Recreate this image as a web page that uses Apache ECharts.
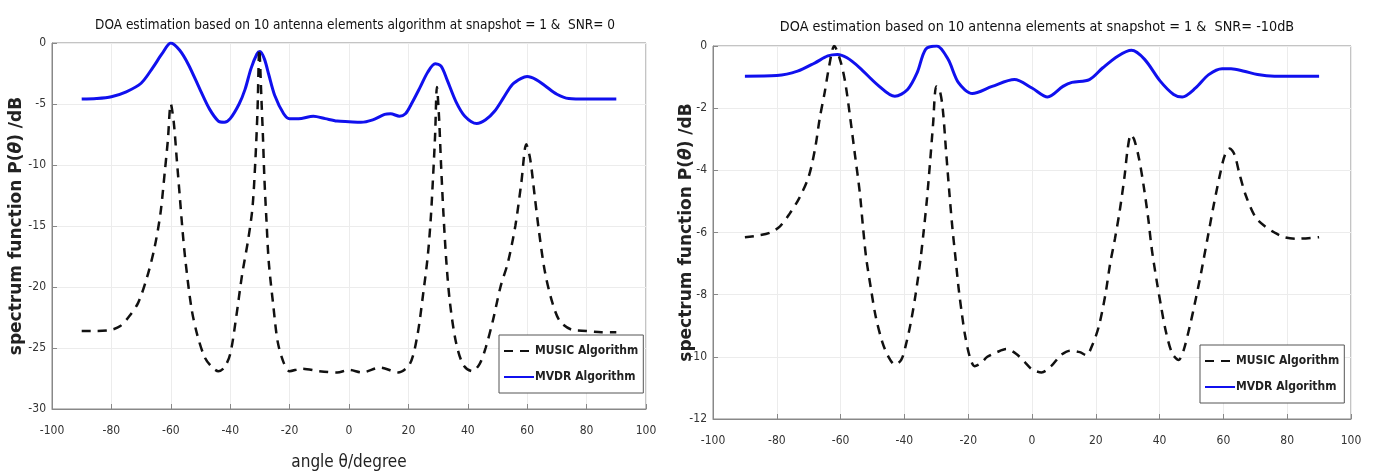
<!DOCTYPE html>
<html>
<head>
<meta charset="utf-8">
<script src="https://cdn.jsdelivr.net/npm/echarts@6/dist/echarts.min.js"></script>
<style>
  html, body { margin: 0; padding: 0; background: #fff; }
  #chart { width: 1374px; height: 474px; }
</style>
</head>
<body>
<div id="chart"></div>
<script>
// left panel: SNR = 0
const musicAngleL = [-90, -85, -80, -77, -74, -71, -68, -65.5, -63.5, -62, -61, -60, -59, -58, -57, -56, -55, -53, -51, -48.5, -46, -44, -42, -40, -38, -36, -34, -32.5, -31.5, -30.8, -30.2, -29.5, -29, -28.5, -27.8, -27, -25.5, -24, -22, -20, -16, -10, -4, 0, 4.5, 10.5, 16.5, 20.5, 23, 25, 26.5, 27.5, 28.3, 29, 29.6, 30.3, 31, 31.8, 32.8, 34, 36, 38.5, 41.5, 44, 46, 48.5, 51, 53.5, 56, 58, 59.7, 61, 62.5, 64, 66, 68.5, 71, 75, 80, 85, 90]
const musicDbL = [-23.6, -23.6, -23.5, -23.2, -22.4, -21.3, -19.2, -16.8, -14, -10.5, -8, -5, -6.5, -9.5, -12.5, -15.5, -18, -21.8, -24, -25.8, -26.6, -26.9, -26.6, -25.5, -22.5, -19, -16.2, -13.5, -9.5, -5.5, -0.5, -4.5, -7.5, -11, -14.5, -18, -21.5, -24.5, -26.2, -26.9, -26.7, -26.9, -27, -26.8, -27, -26.6, -27, -26.3, -24, -20.5, -17.5, -14.5, -11, -7.5, -3.6, -6, -10, -14, -18, -21.3, -24.5, -26.4, -26.9, -26.3, -25, -22.7, -20, -18, -15, -11.5, -8.3, -9.5, -12.5, -15.5, -18.8, -21.3, -22.8, -23.5, -23.6, -23.7, -23.7]
const mvdrAngleL = [-90, -85, -80, -75, -70, -66, -63, -60, -57, -54, -50, -47, -44, -42, -40, -37, -35, -33, -31, -30, -28.5, -27, -25, -22, -20, -17, -12, -8, -4, 0, 4, 8, 12, 14, 17, 19, 21, 24, 26.5, 29, 31, 33, 36, 39, 43, 46, 49, 52, 55, 58, 60, 63, 66, 70, 74, 80, 90]
const mvdrDbL = [-4.6, -4.55, -4.4, -4.0, -3.3, -2.0, -0.9, 0, -0.6, -1.8, -3.9, -5.4, -6.4, -6.5, -6.2, -5.0, -3.8, -2.1, -0.9, -0.7, -1.3, -2.6, -4.3, -5.8, -6.2, -6.2, -6.0, -6.2, -6.4, -6.45, -6.5, -6.3, -5.85, -5.8, -6.0, -5.8, -5.0, -3.6, -2.4, -1.7, -1.9, -3.0, -4.8, -6.0, -6.6, -6.3, -5.6, -4.5, -3.4, -2.9, -2.75, -3.0, -3.5, -4.2, -4.55, -4.6, -4.6]

// right panel: SNR = -10dB
const musicAngleR = [-90, -86, -82, -79, -76, -73, -70, -68, -66.5, -65, -63.5, -62, -60, -58.5, -57, -55.5, -54, -53, -52, -50.5, -49, -47, -45, -43, -41, -39.5, -38, -36.5, -35, -34, -33, -32, -31, -30, -29, -28, -27, -26, -25, -24, -23, -22, -21, -19.5, -18, -16, -14, -11, -8, -5, -2, 0, 3, 6, 9, 12, 15, 17, 19, 21, 23, 24.5, 26, 27.5, 29, 30, 31, 32, 33.5, 35, 36.5, 37.5, 39, 40.5, 42, 44, 46, 47.5, 49.5, 51, 53, 55, 57, 59, 60.5, 62, 63.5, 65, 67, 70, 73, 76, 79, 83, 90]
const musicDbR = [-6.15, -6.1, -6.0, -5.8, -5.4, -4.9, -4.2, -3.3, -2.3, -1.5, -0.6, 0, -0.5, -1.2, -2.3, -3.5, -4.7, -5.8, -6.8, -7.8, -8.7, -9.5, -10, -10.25, -10.1, -9.6, -8.9, -8, -6.9, -6, -5, -3.8, -2.5, -1.3, -1.4, -2, -3.3, -4.6, -5.8, -6.8, -7.8, -8.6, -9.3, -10, -10.3, -10.2, -10, -9.85, -9.75, -9.9, -10.2, -10.4, -10.5, -10.3, -9.95, -9.8, -9.85, -9.95, -9.6, -9, -8, -7, -6.2, -5.3, -4.2, -3.3, -2.85, -3, -3.6, -4.5, -5.6, -6.5, -7.5, -8.4, -9.2, -9.9, -10.1, -9.8, -9, -8.3, -7.3, -6.2, -5.1, -4.1, -3.5, -3.3, -3.5, -4.1, -4.8, -5.5, -5.8, -6, -6.15, -6.2, -6.15]
const mvdrAngleR = [-90, -80, -73.5, -68, -64, -61, -58, -54, -48.5, -43, -39, -36, -33.3, -29.8, -26.3, -23, -18.7, -12.5, -5.5, 0, 4.9, 9.7, 12.5, 18, 22.2, 27, 31.2, 35.3, 40.2, 44.4, 47.1, 51.3, 55.4, 59.6, 62.4, 66.5, 70.7, 76, 90]
const mvdrDbR = [-0.97, -0.95, -0.81, -0.54, -0.32, -0.27, -0.38, -0.7, -1.24, -1.62, -1.4, -0.86, -0.1, 0, -0.43, -1.19, -1.53, -1.3, -1.08, -1.35, -1.64, -1.3, -1.17, -1.08, -0.7, -0.32, -0.14, -0.43, -1.13, -1.56, -1.64, -1.35, -0.92, -0.73, -0.73, -0.81, -0.92, -0.97, -0.97]

const angleTicks = [-100, 100, 20]
const yTicksL = [-30, 0, 5]
const yTicksR = [-12, 0, 2]

const pairs = (xs, ys) => xs.map((x, i) => [x, ys[i]])

const narrow = "'Liberation Sans Narrow', 'DejaVu Sans Condensed', 'Liberation Sans', sans-serif"
const nameTxt = {
    fontFamily: 'DejaVu Sans', fontWeight: 'bold', fontSize: 17, color: '#222',
    rich: { i: { fontFamily: 'DejaVu Sans', fontWeight: 'bold', fontStyle: 'italic', fontSize: 17, color: '#222' } }
}

function xAx(idx, withName) {
    return {
        type: 'value', gridIndex: idx,
        min: angleTicks[0], max: angleTicks[1], interval: angleTicks[2],
        name: withName ? 'angle θ/degree' : '',
        nameLocation: 'middle', nameGap: 45, nameMoveOverlap: false,
        nameTextStyle: { fontFamily: narrow, fontSize: 17, color: '#222' },
        axisLine: { onZero: false, lineStyle: { color: '#888' } },
        axisTick: { inside: true, length: 5, lineStyle: { color: '#888' } },
        axisLabel: { fontFamily: narrow, fontSize: 12, color: '#333', margin: 16 },
        splitLine: { show: true, lineStyle: { color: '#ececec' } }
    }
}

function yAx(idx, ticks, gap) {
    return {
        type: 'value', gridIndex: idx,
        min: ticks[0], max: ticks[1], interval: ticks[2],
        name: 'spectrum function P({i|θ}) /dB',
        nameLocation: 'middle', nameRotate: 90, nameGap: gap, nameMoveOverlap: false,
        nameTextStyle: nameTxt,
        axisLine: { onZero: false, lineStyle: { color: '#888' } },
        axisTick: { inside: true, length: 5, lineStyle: { color: '#888' } },
        axisLabel: { fontFamily: narrow, fontSize: 12, color: '#333', margin: 6 },
        splitLine: { show: true, lineStyle: { color: '#ececec' } }
    }
}

function line(name, idx, data, color, dashed) {
    return {
        name: name, type: 'line', xAxisIndex: idx, yAxisIndex: idx,
        data: data, smooth: 0.3, symbol: 'none', silent: true,
        z: dashed ? 3 : 2,
        lineStyle: dashed
            ? { color: color, width: 2.5, type: [9, 7] }
            : { color: color, width: 3 },
        itemStyle: { color: color }
    }
}

function legendAt(left, top) {
    return {
        data: ['MUSIC Algorithm', 'MVDR Algorithm'],
        orient: 'vertical', left: left, top: top,
        backgroundColor: '#fff', borderColor: '#555', borderWidth: 1,
        padding: [10, 5, 10, 4], itemGap: 14, itemWidth: 30, itemHeight: 14,
        itemStyle: { opacity: 0 },
        textStyle: { fontFamily: narrow, fontSize: 12, fontWeight: 'bold', color: '#222', padding: [0, 0, 0, -4] }
    }
}

let option = {
    backgroundColor: '#fff',
    animation: false,
    title: [
        {
            text: 'DOA estimation based on 10 antenna elements algorithm at snapshot = 1 &  SNR= 0',
            left: 350, top: 13, textAlign: 'center',
            textStyle: { fontFamily: narrow, fontSize: 13.5, fontWeight: 'normal', color: '#111' }
        },
        {
            text: 'DOA estimation based on 10 antenna elements at snapshot = 1 &  SNR= -10dB',
            left: 1032, top: 15, textAlign: 'center',
            textStyle: { fontFamily: narrow, fontSize: 14.3, fontWeight: 'normal', color: '#111' }
        }
    ],
    legend: [legendAt(499, 335), legendAt(1200, 345)],
    grid: [
        { left: 52, top: 43, width: 594, height: 366, show: true, borderColor: '#888', borderWidth: 1, outerBoundsMode: 'none' },
        { left: 713, top: 46, width: 638, height: 373, show: true, borderColor: '#888', borderWidth: 1, outerBoundsMode: 'none' }
    ],
    xAxis: [xAx(0, true), xAx(1, false)],
    yAxis: [yAx(0, yTicksL, 27), yAx(1, yTicksR, 18)],
    series: [
        line('MVDR Algorithm', 0, pairs(mvdrAngleL, mvdrDbL), '#1010ee', false),
        line('MUSIC Algorithm', 0, pairs(musicAngleL, musicDbL), '#111', true),
        line('MVDR Algorithm', 1, pairs(mvdrAngleR, mvdrDbR), '#1010ee', false),
        line('MUSIC Algorithm', 1, pairs(musicAngleR, musicDbR), '#111', true)
    ]
}

let chart = echarts.init(document.getElementById('chart'))
chart.setOption(option)
</script>
</body>
</html>
